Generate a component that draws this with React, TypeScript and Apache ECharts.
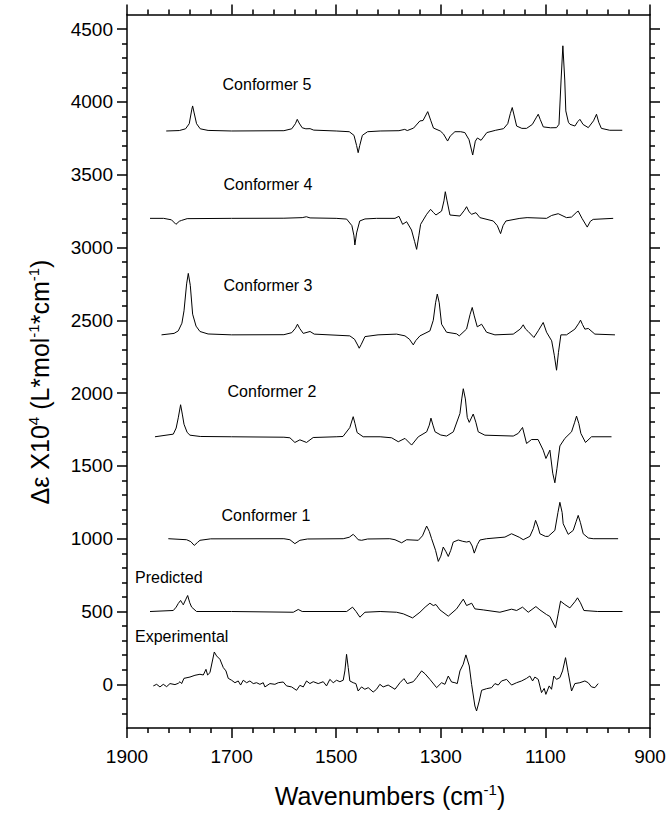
import React, { useEffect, useRef } from 'react';
import * as echarts from 'echarts';

const FONT = '"Liberation Sans", Arial, Helvetica, sans-serif';

const X_TICKS = [1900, 1700, 1500, 1300, 1100, 900];
const X_MINOR = [1860, 1820, 1780, 1740, 1660, 1620, 1580, 1540, 1460, 1420, 1380, 1340, 1260, 1220, 1180, 1140, 1060, 1020, 980, 940];
const Y_TICKS = [0, 500, 1000, 1500, 2000, 2500, 3000, 3500, 4000, 4500];
const Y_MINOR = [-200, -100, 100, 200, 300, 400, 600, 700, 800, 900, 1100, 1200, 1300, 1400, 1600, 1700, 1800, 1900, 2100, 2200, 2300, 2400, 2600, 2700, 2800, 2900, 3100, 3200, 3300, 3400, 3600, 3700, 3800, 3900, 4100, 4200, 4300, 4400];

const conformer5: [number, number][] = [
  [1825, 3800], [1800, 3803], [1788, 3815], [1781, 3850], [1776, 3950], [1774.5, 3972], [1772, 3930], [1767, 3850], [1760, 3815], [1745, 3804], [1700, 3800],
  [1600, 3802], [1585, 3815], [1578, 3850], [1574.5, 3880], [1571, 3855], [1565, 3822], [1558, 3815], [1550, 3816], [1543, 3806], [1500, 3800],
  [1475, 3795], [1466, 3770], [1461, 3700], [1458, 3651], [1455, 3700], [1450, 3770], [1440, 3795], [1416, 3800], [1380, 3802], [1369, 3811], [1364, 3803],
  [1352, 3820], [1340, 3869], [1334, 3872], [1325, 3933], [1319, 3870], [1314, 3820], [1301, 3800], [1295, 3780], [1287, 3731], [1282, 3765], [1273, 3795],
  [1262, 3795], [1254, 3789], [1246, 3740], [1239, 3635], [1234, 3730], [1230, 3752], [1223, 3736], [1212, 3789], [1195, 3805], [1180, 3816], [1172, 3850],
  [1167, 3920], [1163.4, 3961], [1160, 3910], [1155, 3834], [1145, 3818], [1136, 3818], [1125, 3845], [1117, 3895], [1113.7, 3915], [1110, 3880], [1104, 3828],
  [1090, 3822], [1078.7, 3823], [1074, 3846], [1070, 4150], [1066.6, 4385], [1063, 4150], [1061, 3938], [1056, 3860], [1053, 3846], [1043.6, 3834], [1038, 3865],
  [1034, 3880], [1028, 3845], [1018, 3823], [1008, 3870], [1002.3, 3915], [998, 3860], [993, 3818], [977, 3805], [953, 3805],
];

const conformer4: [number, number][] = [
  [1856, 3200], [1830, 3200], [1815, 3190], [1806.4, 3159], [1800, 3180], [1795.6, 3186], [1785, 3198], [1700, 3200], [1600, 3201], [1565, 3205], [1557, 3211],
  [1550, 3203], [1500, 3200], [1480, 3195], [1470, 3150], [1466, 3080], [1464.3, 3017], [1461, 3100], [1455, 3182], [1445, 3196], [1423, 3200], [1387.6, 3200],
  [1380, 3214], [1373, 3159], [1365.3, 3177], [1356, 3120], [1350, 3040], [1346.2, 2987], [1342, 3080], [1338.6, 3159], [1327, 3228], [1319.5, 3262], [1314, 3240],
  [1309.3, 3223], [1298.5, 3250], [1294, 3320], [1291.4, 3383], [1288, 3320], [1282.5, 3223], [1263.4, 3216], [1255, 3255], [1250.7, 3280], [1246, 3245],
  [1241, 3228], [1232.8, 3239], [1225.2, 3205], [1199.7, 3182], [1192, 3150], [1185.7, 3095], [1181, 3150], [1175.5, 3182], [1148.8, 3200], [1135, 3205],
  [1097.8, 3200], [1088, 3220], [1075.5, 3232], [1059.6, 3205], [1050, 3209], [1041, 3240], [1037.3, 3250], [1030, 3200], [1020, 3140], [1014, 3180],
  [1008.6, 3193], [970.4, 3200],
];

const conformer3: [number, number][] = [
  [1834, 2400], [1810, 2410], [1802, 2427], [1795, 2480], [1791, 2565], [1786, 2750], [1782.8, 2822], [1779, 2740], [1774.5, 2542], [1768, 2460], [1760.5, 2423],
  [1745, 2406], [1700, 2400], [1600, 2401], [1585, 2415], [1578, 2445], [1574, 2473], [1570, 2445], [1563, 2410], [1550, 2423], [1542, 2405], [1474, 2393],
  [1465, 2370], [1459, 2330], [1456, 2308], [1452, 2335], [1445, 2388], [1420, 2400], [1384.5, 2405], [1368.5, 2393], [1360, 2370], [1352.6, 2331], [1348, 2360],
  [1339.9, 2393], [1320.8, 2427], [1314.4, 2500], [1310, 2620], [1306.7, 2680], [1303, 2620], [1298.5, 2473], [1289, 2418], [1269.8, 2407], [1264.7, 2393],
  [1250.7, 2440], [1244, 2540], [1239.9, 2588], [1236, 2530], [1230.3, 2455], [1222, 2473], [1212.5, 2418], [1196.5, 2400], [1161.5, 2405], [1148, 2440],
  [1142.4, 2469], [1138, 2440], [1132.8, 2423], [1122, 2382], [1113.7, 2428], [1104.2, 2485], [1097.8, 2418], [1088, 2359], [1083, 2260], [1078.7, 2157],
  [1075, 2280], [1070.4, 2400], [1059.6, 2400], [1043.7, 2439], [1036, 2480], [1032.8, 2501], [1029, 2470], [1024.5, 2439], [1018, 2444], [1005.4, 2405], [967, 2400],
];

const conformer2: [number, number][] = [
  [1846.5, 1700], [1811.5, 1718], [1806, 1760], [1802, 1830], [1797.5, 1920], [1794, 1850], [1791, 1786], [1785, 1730], [1779.6, 1711], [1760, 1702], [1700, 1700],
  [1600, 1697], [1588.5, 1693], [1579, 1661], [1569.4, 1679], [1556.7, 1661], [1544, 1695], [1500, 1700], [1487, 1702], [1474, 1763], [1467.5, 1838], [1464, 1790],
  [1460, 1729], [1448.4, 1700], [1416, 1700], [1394, 1693], [1381.3, 1666], [1368.5, 1689], [1355.8, 1643], [1343, 1700], [1327, 1734], [1322, 1780], [1318.8, 1828],
  [1315, 1780], [1311, 1734], [1300, 1712], [1288.9, 1705], [1276, 1734], [1263.4, 1860], [1260, 1960], [1257, 2030], [1253, 1960], [1249.4, 1833], [1245.6, 1799],
  [1238, 1856], [1233, 1800], [1228.4, 1734], [1215.7, 1711], [1161.5, 1705], [1152, 1723], [1143.7, 1764], [1136, 1654], [1126.5, 1681], [1114, 1681],
  [1104.2, 1608], [1099, 1551], [1091.4, 1608], [1086, 1450], [1081.9, 1384], [1078, 1480], [1072.3, 1637], [1062.8, 1689], [1050, 1734], [1044, 1800],
  [1040.5, 1842], [1036, 1790], [1032.2, 1723], [1023.3, 1661], [1011.8, 1700], [973.6, 1700],
];

const conformer1: [number, number][] = [
  [1821, 1000], [1786, 993], [1778, 980], [1771.4, 954], [1765, 975], [1760.5, 989], [1740, 999], [1600, 1000], [1588.5, 993], [1579, 966], [1569.4, 989],
  [1555, 998], [1486.6, 1000], [1475, 1010], [1467.5, 1030], [1462, 1010], [1458, 993], [1451.5, 989], [1440, 998], [1397.5, 1000], [1387.6, 993], [1374.9, 972],
  [1365.3, 993], [1343, 989], [1335, 1020], [1327.1, 1087], [1322, 1050], [1317.6, 1000], [1310, 920], [1304.8, 844], [1300, 880], [1295.3, 943], [1290, 910],
  [1285.7, 878], [1281, 920], [1276.2, 977], [1266.6, 991], [1258, 982], [1250.7, 977], [1245, 982], [1240, 950], [1236, 901], [1230, 960], [1225.2, 991],
  [1212.5, 1000], [1177.4, 1011], [1164.7, 1034], [1150, 1010], [1142.4, 993], [1129.7, 1016], [1123, 1070], [1118.8, 1126], [1114, 1080], [1110.5, 1034],
  [1100, 1016], [1094.6, 1016], [1081.9, 1057], [1076, 1180], [1072.3, 1250], [1068, 1180], [1066, 1103], [1056.4, 1030], [1046.8, 1057], [1041, 1120],
  [1037.3, 1160], [1033, 1110], [1027.7, 1034], [1018, 1005], [1008.6, 1000], [961, 1000],
];

const predicted: [number, number][] = [
  [1856, 500], [1811.5, 507], [1806, 530], [1802, 555], [1797.5, 576], [1794, 555], [1792.4, 546], [1788, 580], [1784, 610], [1780, 560], [1776.4, 530],
  [1767, 500], [1700, 500], [1582, 495], [1572.6, 514], [1565, 500], [1480, 500], [1468.8, 530], [1462, 500], [1454.7, 461], [1445, 495], [1416, 500],
  [1384.5, 495], [1371.7, 484], [1353.9, 456], [1339.9, 495], [1330, 530], [1320.8, 557], [1314.4, 541], [1309.3, 548], [1301.6, 511], [1285.7, 468],
  [1269.8, 518], [1257, 585], [1250.7, 541], [1241, 557], [1234.8, 518], [1218.8, 511], [1187, 495], [1164.7, 516], [1155, 507], [1143.7, 530], [1132.8, 495],
  [1118.2, 534], [1110.5, 511], [1097.8, 479], [1091.4, 466], [1080.6, 388], [1075.5, 484], [1071, 571], [1062.8, 548], [1053.2, 525], [1043, 570],
  [1038.6, 594], [1033, 560], [1026.4, 507], [1000, 500], [952.6, 500],
];

const experimental: [number, number][] = [
  [1849.7, -11], [1843.3, 0], [1837, -18], [1830.6, 0], [1824.2, -16], [1817.8, 5], [1808.3, -2], [1801.9, 7], [1798.7, 18], [1795.5, 5], [1791.1, 41],
  [1779.6, 50], [1770.1, 62], [1760.5, 69], [1754.1, 64], [1749, 103], [1745.9, 64], [1741.4, 80], [1733.1, 222], [1728.7, 195], [1722.3, 172], [1715.9, 115],
  [1710.8, 92], [1706.4, 41], [1700, 28], [1693.6, 11], [1687.3, 23], [1682.8, -5], [1677.7, 28], [1671.3, 11], [1665, 23], [1658.6, 5], [1652.2, 11],
  [1645.9, 0], [1639.5, 11], [1636.3, -18], [1626.7, 5], [1617.2, 0], [1610.8, 11], [1601.3, 16], [1594.9, -11], [1585.3, -18], [1575.8, -41], [1569.4, -7],
  [1563, -18], [1556.7, 23], [1550.3, 5], [1543.9, 18], [1534.4, 5], [1524.8, 18], [1518.5, -11], [1512.1, 34], [1505.7, 11], [1499.3, 28], [1493, 18],
  [1486.6, 28], [1483.4, 92], [1480.2, 206], [1477, 115], [1473.9, 23], [1467.5, 11], [1462.4, 5], [1458, -46], [1451.6, -18], [1445.2, -34], [1438.8, -23],
  [1429.3, -53], [1422.9, -34], [1416.5, 0], [1410.2, -18], [1400.6, -5], [1387.6, -34], [1378.1, 11], [1370.4, 39], [1364.1, 5], [1352.6, 18], [1346.2, 46],
  [1336.7, 92], [1330.3, 73], [1320.8, 34], [1308, -23], [1298.5, 11], [1292.1, 0], [1285.7, 57], [1279.4, 16], [1273, 11], [1268.5, 5], [1263.4, 92],
  [1257.1, 138], [1252, 202], [1245.6, 126], [1241.1, 0], [1234.8, -149], [1231.6, -183], [1226.5, -115], [1222, -41], [1212.5, -30], [1202.9, -23],
  [1196.5, 5], [1190.2, -5], [1183.8, 23], [1174.2, 34], [1164.7, -5], [1155.1, 11], [1145.6, 23], [1136, 41], [1129.7, 57], [1124.5, 23], [1120.1, 50],
  [1113.7, 34], [1107.4, -57], [1102.3, -28], [1099.1, -69], [1092.7, -11], [1088.3, -34], [1083.8, 57], [1078.7, 34], [1072.3, 46], [1067.2, 92],
  [1061.5, 183], [1056.4, 80], [1050, -46], [1043.7, 5], [1034.1, 11], [1024.5, 23], [1018.2, 11], [1011.8, -18], [1005.4, -23], [999.1, 5],
];

const SERIES_NAMES = ['Conformer 5', 'Conformer 4', 'Conformer 3', 'Conformer 2', 'Conformer 1', 'Predicted', 'Experimental'];
const SERIES_DATA = [conformer5, conformer4, conformer3, conformer2, conformer1, predicted, experimental];

export default function App() {
  const ref = useRef<HTMLDivElement>(null);
  useEffect(() => {
    document.body.style.margin = '0';
    const chart = echarts.init(ref.current!, null, { renderer: 'svg' });
    const black = '#000';
    const thinLine = { color: black, width: 1 };
    const axisLineStyle = { color: black, width: 1.5 };
    const xBase = { type: 'value', min: 900, max: 1900, inverse: true, splitLine: { show: false } };
    const yBase = { type: 'value', min: -300, max: 4600, splitLine: { show: false } };
    const majorTick = (vals: number[]) => ({ show: true, inside: false, length: 10, customValues: vals, lineStyle: axisLineStyle });
    const minorTick = (vals: number[]) => ({ show: true, inside: false, length: 5, customValues: vals, lineStyle: axisLineStyle });
    const labelStyle = { fontSize: 19, color: black, fontFamily: FONT, formatter: (v: number) => String(v) };
    const line = (show: boolean) => ({ show, onZero: false, lineStyle: axisLineStyle });

    const xAxis = [
      { ...xBase, position: 'bottom', axisLine: line(true), axisTick: majorTick(X_TICKS),
        axisLabel: { show: true, customValues: X_TICKS, margin: 19, ...labelStyle } },
      { ...xBase, position: 'bottom', axisLine: line(false), axisTick: minorTick(X_MINOR), axisLabel: { show: false } },
      { ...xBase, position: 'top', axisLine: line(true), axisTick: majorTick(X_TICKS), axisLabel: { show: false } },
      { ...xBase, position: 'top', axisLine: line(false), axisTick: minorTick(X_MINOR), axisLabel: { show: false } },
    ];
    const yAxis = [
      { ...yBase, position: 'left', axisLine: line(true), axisTick: majorTick(Y_TICKS),
        axisLabel: { show: true, customValues: Y_TICKS, margin: 14, ...labelStyle } },
      { ...yBase, position: 'left', axisLine: line(false), axisTick: minorTick(Y_MINOR), axisLabel: { show: false } },
      { ...yBase, position: 'right', axisLine: line(true), axisTick: majorTick(Y_TICKS), axisLabel: { show: false } },
      { ...yBase, position: 'right', axisLine: line(false), axisTick: minorTick(Y_MINOR), axisLabel: { show: false } },
    ];

    const series = SERIES_DATA.map((d, i) => ({
      type: 'line',
      name: SERIES_NAMES[i],
      data: d,
      xAxisIndex: 0,
      yAxisIndex: 0,
      showSymbol: false,
      symbol: 'none',
      silent: true,
      lineStyle: thinLine,
      z: 3,
    }));

    const label = (text: string, x: number, y: number, align: string = 'center') => ({
      type: 'text', x, y, silent: true,
      style: { text, fontSize: 16, fontFamily: FONT, fill: black, align, verticalAlign: 'middle' },
    });

    const titleRich = {
      a: { fontSize: 25, fontFamily: FONT, fill: black },
      s: { fontSize: 15, fontFamily: FONT, fill: black, padding: [0, 0, 13, 0] },
    };

    chart.setOption({
      animation: false,
      backgroundColor: '#fff',
      grid: { left: 127, right: 20, top: 14.5, bottom: 88, outerBoundsMode: 'none' },
      xAxis,
      yAxis,
      series,
      graphic: [
        label('Conformer 5', 267, 84),
        label('Conformer 4', 268, 184),
        label('Conformer 3', 268, 285),
        label('Conformer 2', 272, 391),
        label('Conformer 1', 266, 515),
        label('Predicted', 135, 577, 'left'),
        label('Experimental', 135, 636, 'left'),
        {
          type: 'text', x: 390, y: 796, silent: true,
          style: {
            text: '{a|Wavenumbers (cm}{s|-1}{a|)}',
            align: 'center', verticalAlign: 'middle', fill: black,
            rich: titleRich,
          },
        },
        {
          type: 'text', x: 40, y: 382, rotation: Math.PI / 2, silent: true,
          style: {
            text: '{a|\u0394\u03b5 X10}{s|4}{a| (L*mol}{s|-1}{a|*cm}{s|-1}{a|)}',
            align: 'center', verticalAlign: 'middle', fill: black,
            rich: titleRich,
          },
        },
      ],
    });
    return () => chart.dispose();
  }, []);
  return <div ref={ref} style={{ width: 670, height: 816 }} />;
}
